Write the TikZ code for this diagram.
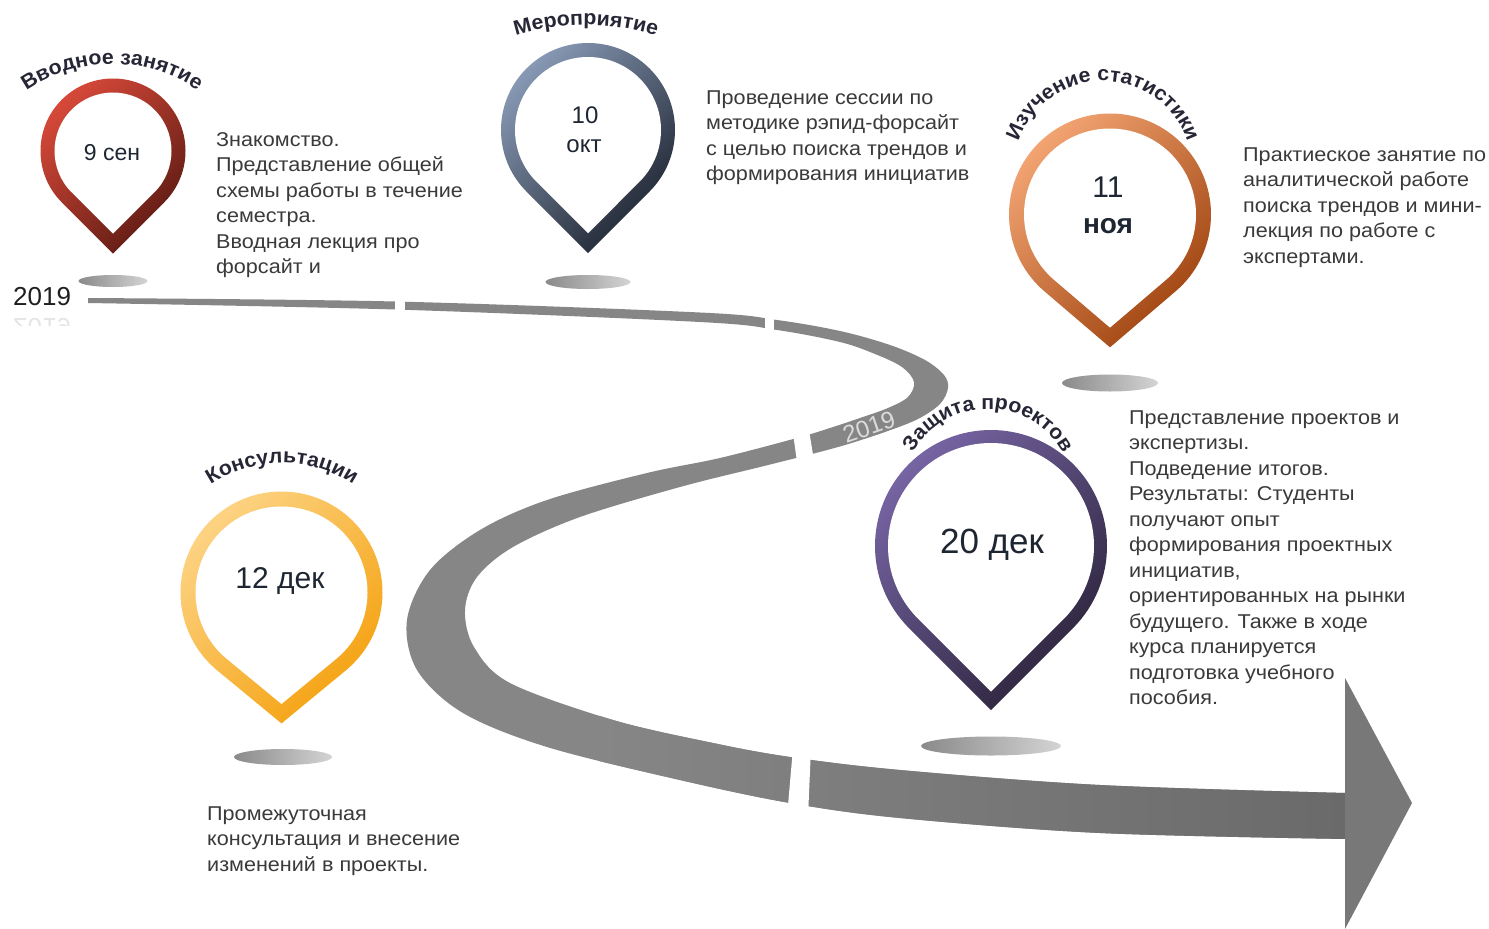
\documentclass[tikz,border=0pt]{standalone}
\usepackage{fontspec}
\setmainfont{Liberation Sans}
\newfontfamily\bodyfam[FakeStretch=1.08]{Liberation Sans}
\newfontfamily\lblfam[FakeStretch=1.04]{Liberation Sans}
\usetikzlibrary{decorations.text}
\definecolor{bodytxt}{HTML}{3A3A3A}
\definecolor{datetxt}{HTML}{1E2632}
\definecolor{labeltxt}{HTML}{262636}
\definecolor{roadgray}{HTML}{868686}
\definecolor{roaddark}{HTML}{6A6A6A}
\definecolor{arrowgray}{HTML}{787878}
\definecolor{shadowdark}{HTML}{8A8A8A}
\definecolor{shadowlight}{HTML}{D4D4D4}
\definecolor{redA}{HTML}{DA4A3A}\definecolor{redB}{HTML}{5A1A12}
\definecolor{blueA}{HTML}{8A9CB8}\definecolor{blueB}{HTML}{1C222E}
\definecolor{oranA}{HTML}{F4A674}\definecolor{oranB}{HTML}{9C400C}
\definecolor{purpA}{HTML}{7866A6}\definecolor{purpB}{HTML}{2A2238}
\definecolor{yellA}{HTML}{FDD486}\definecolor{yellB}{HTML}{F4A00C}
\newcommand{\lblfont}{\lblfam\fontsize{20.5}{24}\selectfont\bfseries\color{labeltxt}}
% #1 cx, #2 cy (pixels down), #3 R, #4 alpha, #5 ring width, #6 light colour, #7 dark colour
\newcommand{\drawpin}[7]{%
  \shade[top color=#6, bottom color=#7, shading angle=45]
    ({#1+#3*sin(#4)},{-#2-#3*cos(#4)}) arc[start angle={-90+#4}, end angle={270-#4}, radius=#3]
    -- ({#1},{-#2-#3/cos(#4)}) -- cycle;
  \fill[white]
    ({#1+(#3-#5)*sin(#4)},{-#2-(#3-#5)*cos(#4)}) arc[start angle={-90+#4}, end angle={270-#4}, radius={#3-#5}]
    -- ({#1},{-#2-(#3-#5)/cos(#4)}) -- cycle;
}
\newcommand{\pinshadow}[4]{%
  \shade[left color=shadowdark, right color=shadowlight] (#1,-#2) ellipse[x radius=#3, y radius=#4];
}
\begin{document}
\begin{tikzpicture}[x=1pt,y=1pt,
  bodytext/.style={anchor=north west, inner sep=0pt, align=left, text=bodytxt,
    font=\bodyfam\fontsize{20}{25.5}\selectfont},
  datetext/.style={anchor=base, inner sep=0pt, text=datetxt},
  gapfill/.style={fill=white}]
\fill[white] (0,0) rectangle (1489,-929);
\useasboundingbox (0,0) rectangle (1489,-929);

% ---------- road ----------
\path[save path=\roadp]
  plot[smooth, tension=0.55] coordinates {
    (88,-298) (395,-301.5) (700,-312.5) (777,-320) (840,-331) (890,-345) (925,-360)
    (944,-375) (948,-388) (940,-404) (918,-419) (885,-432) (845,-445) (808,-455)
    (760,-467) (680,-487) (580,-517) (513,-547) (477,-577) (465,-610) (474,-647)
    (510,-683) (613,-720) (713,-743) (790,-757) (900,-770) (1100,-785) (1346,-793)}
  -- plot[smooth, tension=0.55] coordinates {
    (1346,-839) (1100,-833) (900,-818) (790,-803) (680,-780) (547,-747) (463,-713)
    (417,-670) (407,-620) (430,-570) (480,-530) (547,-500) (647,-473) (720,-458)
    (797,-438) (830,-428) (860,-418) (888,-408) (908,-397) (914,-382) (902,-367)
    (875,-354) (840,-342) (777,-330) (700,-322) (395,-309.5) (88,-303)}
  -- cycle;
\fill[roadgray, use path=\roadp];
\begin{scope}
  \clip[use path=\roadp];
  \shade[left color=roadgray, right color=roaddark] (600,-680) rectangle (1346,-860);
\end{scope}
% gaps in the road
\fill[gapfill] (395,-294) rectangle (405,-316);
\fill[gapfill] (765,-310) rectangle (774,-337);
\fill[gapfill] (792,-426) -- (808,-424) -- (815,-467) -- (798,-469) -- cycle;
\fill[gapfill] (793,-748) -- (811,-748) -- (808,-817) -- (787,-817) -- cycle;
% arrow head
\fill[arrowgray] (1345,-678) -- (1412,-803) -- (1345,-929) -- cycle;
\node[text=white!86!black, font=\fontsize{24}{28}\selectfont, rotate=19, inner sep=0pt]
  (roadyear) at (869,-427) {2019};

% ---------- year label ----------
\node[anchor=base west, inner sep=0pt, text=black!88, font=\fontsize{26}{30}\selectfont]
  (year) at (13,-305) {2019};
\begin{scope}
  \clip (8,-318) rectangle (80,-325);
  \node[anchor=base west, inner sep=0pt, text=black!10, font=\fontsize{26}{30}\selectfont,
    yscale=-1, transform shape] (yearmirror) at (13,-318) {2019};
\end{scope}

% ---------- shadows ----------
\pinshadow{113}{281}{34.5}{6}
\pinshadow{588}{282}{42.5}{7}
\pinshadow{1110}{383}{48}{8.5}
\pinshadow{991}{746}{70}{9.5}
\pinshadow{283}{757}{49}{8}

% ---------- pins ----------
\drawpin{113}{151}{72.5}{45}{14}{redA}{redB}
\drawpin{588}{130}{87}{45}{14}{blueA}{blueB}
\drawpin{1110}{214.5}{101}{40.5}{15}{oranA}{oranB}
\drawpin{991}{546}{116}{45}{13}{purpA}{purpB}
\drawpin{281.5}{592.5}{101}{39.5}{15}{yellA}{yellB}

% ---------- dates ----------
\node[datetext, font=\fontsize{23}{27}\selectfont] (d1) at (112,-160) {9 сен};
\node[datetext, font=\fontsize{24}{28}\selectfont] (d2a) at (585,-123) {10};
\node[datetext, font=\fontsize{24}{28}\selectfont] (d2b) at (584,-152) {окт};
\node[datetext, font=\fontsize{30}{34}\selectfont] (d3a) at (1108,-197) {11};
\node[datetext, font=\fontsize{28}{32}\selectfont\bfseries] (d3b) at (1108,-233) {ноя};
\node[datetext, font=\fontsize{35}{40}\selectfont] (d4) at (992,-553) {20 дек};
\node[datetext, font=\fontsize{30}{34}\selectfont] (d5) at (280,-588) {12 дек};

% ---------- curved labels ----------
\path[decorate, decoration={text along path, text={|\lblfont|Вводное занятие}, text align=center}]
  ({112+152*cos(150)},{-216+152*sin(150)}) arc[start angle=150, end angle=30, radius=152];
\path[decorate, decoration={text along path, text={|\lblfont|Мероприятие}, text align=center}]
  ({586+240*cos(115)},{-265+240*sin(115)}) arc[start angle=115, end angle=65, radius=240];
\path[decorate, decoration={text along path, text={|\lblfont|Изучение статистики}, text align=center}]
  ({1103+89*cos(178)},{-170+89*sin(178)}) arc[start angle=178, end angle=2, radius=89];
\path[decorate, decoration={text along path, text={|\lblfont|Защита проектов}, text align=center}]
  ({988+86*cos(175)},{-495+86*sin(175)}) arc[start angle=175, end angle=5, radius=86];
\path[decorate, decoration={text along path, text={|\lblfont|Консультации}, text align=center}]
  ({282+129*cos(150)},{-592+129*sin(150)}) arc[start angle=150, end angle=30, radius=129];

% ---------- descriptions ----------
\node[bodytext] (t1) at (216,-130) {\rule{0pt}{16pt}Знакомство.\\
  Представление  общей\\
  схемы работы  в течение\\
  семестра.\\
  Вводная  лекция  про\\
  форсайт  и};
\node[bodytext] (t2) at (706,-88) {\rule{0pt}{16pt}Проведение сессии по\\
  методике рэпид-форсайт\\
  с целью  поиска  трендов  и\\
  формирования инициатив};
\node[bodytext] (t3) at (1243,-145) {\rule{0pt}{16pt}Практиеское  занятие  по\\
  аналитической  работе\\
  поиска трендов  и мини-\\
  лекция по работе  с\\
  экспертами.};
\node[bodytext] (t4) at (1129,-408) {\rule{0pt}{16pt}Представление  проектов  и\\
  экспертизы.\\
  Подведение итогов.\\
  Результаты:  Студенты\\
  получают опыт\\
  формирования проектных\\
  инициатив,\\
  ориентированных на рынки\\
  будущего. Также  в ходе\\
  курса планируется\\
  подготовка  учебного\\
  пособия.};
\node[bodytext] (t5) at (207,-804) {\rule{0pt}{16pt}Промежуточная\\
  консультация  и внесение\\
  изменений в проекты.};
\end{tikzpicture}
\end{document}
